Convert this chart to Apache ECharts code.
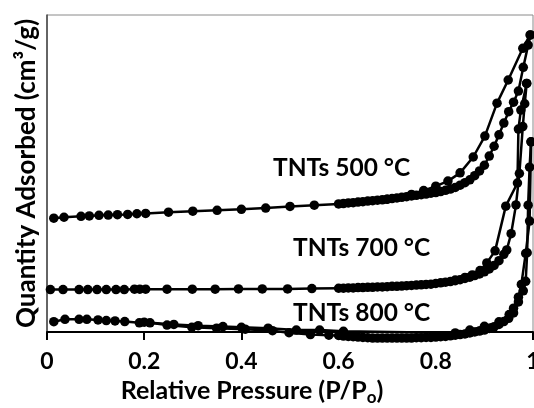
<!DOCTYPE html>
<html>
<head>
<meta charset="utf-8">
<script src="https://cdn.jsdelivr.net/npm/echarts@6/dist/echarts.min.js"></script>
<style>
  html, body { margin: 0; padding: 0; background: #fff; }
  #chart { width: 534px; height: 408px; }
</style>
</head>
<body>
<div id="chart"></div>
<script>
// x tick labels
const xTicks = ["0", "0.2", "0.4", "0.6", "0.8", "1"]

// TNTs 500 °C
const ads500X = [0.014, 0.035, 0.070, 0.087, 0.107, 0.126, 0.145, 0.166, 0.185, 0.203, 0.25, 0.30, 0.35, 0.40, 0.45, 0.50, 0.55,
  0.60, 0.61, 0.62, 0.63, 0.64, 0.65, 0.66, 0.67, 0.68, 0.69, 0.70, 0.71, 0.72, 0.73, 0.74, 0.75, 0.76, 0.77, 0.78, 0.79,
  0.80, 0.81, 0.82, 0.83, 0.84, 0.85, 0.86, 0.87, 0.88, 0.89, 0.90, 0.91, 0.92, 0.93, 0.94, 0.95, 0.96, 0.97, 0.98, 0.99, 0.995]
const ads500Y = [35.9, 36.2, 36.5, 36.6, 36.8, 36.9, 37.0, 37.1, 37.3, 37.4, 37.8, 38.1, 38.4, 38.7, 39.1, 39.6, 40.0,
  40.4, 40.5, 40.7, 40.8, 41.0, 41.1, 41.3, 41.4, 41.6, 41.7, 41.9, 42.1, 42.3, 42.5, 42.7, 42.9, 43.1, 43.3, 43.5, 43.8,
  44.0, 44.3, 44.7, 45.1, 45.6, 46.3, 47.1, 48.0, 49.3, 50.8, 52.6, 55.5, 58.6, 62.2, 65.9, 69.5, 72.5, 76.0, 83.5, 90.5, 93.7]
const des500X = [0.994, 0.979, 0.949, 0.926, 0.901, 0.877, 0.850, 0.825, 0.800, 0.775, 0.750, 0.700]
const des500Y = [93.7, 89.5, 79.5, 72.2, 61.8, 55.2, 50.2, 47.6, 46.0, 44.6, 43.4, 41.9]

// TNTs 700 °C
const ads700X = [0.007, 0.033, 0.066, 0.084, 0.103, 0.122, 0.142, 0.159, 0.180, 0.191, 0.203, 0.247, 0.299, 0.346, 0.394, 0.443, 0.495, 0.545,
  0.60, 0.61, 0.62, 0.63, 0.64, 0.65, 0.66, 0.67, 0.68, 0.69, 0.70, 0.71, 0.72, 0.73, 0.74, 0.75, 0.76, 0.77, 0.78, 0.79,
  0.80, 0.81, 0.82, 0.83, 0.84, 0.85, 0.86, 0.87, 0.88, 0.89, 0.90, 0.91, 0.92, 0.93, 0.94, 0.946, 0.955, 0.965, 0.972, 0.979, 0.983, 0.987]
const ads700Y = [13.4, 13.4, 13.4, 13.4, 13.4, 13.4, 13.4, 13.4, 13.5, 13.5, 13.5, 13.5, 13.5, 13.5, 13.6, 13.6, 13.6, 13.7,
  13.8, 13.8, 13.9, 13.9, 14.0, 14.0, 14.1, 14.1, 14.2, 14.2, 14.3, 14.4, 14.4, 14.5, 14.6, 14.7, 14.8, 14.9, 15.0, 15.1,
  15.3, 15.5, 15.7, 15.9, 16.2, 16.5, 16.9, 17.3, 17.8, 18.3, 19.0, 19.9, 21.0, 22.5, 24.5, 25.9, 31.0, 40.1, 50.0, 64.8, 72.0, 78.4]
const des700X = [0.987, 0.975, 0.970, 0.968, 0.944, 0.922, 0.905, 0.891, 0.875, 0.860, 0.840]
const des700Y = [78.4, 70.0, 64.0, 47.0, 39.7, 25.6, 21.8, 19.4, 18.0, 17.2, 16.4]

// TNTs 800 °C
const ads800X = [0.014, 0.037, 0.066, 0.082, 0.105, 0.122, 0.140, 0.160, 0.190, 0.212, 0.247, 0.298, 0.349, 0.408, 0.464, 0.498, 0.542, 0.580,
  0.60, 0.61, 0.62, 0.63, 0.64, 0.65, 0.66, 0.67, 0.68, 0.69, 0.70, 0.71, 0.72, 0.73, 0.74, 0.75, 0.76, 0.77, 0.78, 0.79,
  0.80, 0.81, 0.82, 0.83, 0.84, 0.85, 0.86, 0.87, 0.88, 0.89, 0.90, 0.91, 0.92, 0.93, 0.94, 0.95, 0.96, 0.97, 0.98, 0.985, 0.988, 0.990, 0.993, 0.996]
const ads800Y = [3.25, 4.0, 4.0, 4.0, 3.8, 3.6, 3.5, 3.3, 2.9, 2.9, 2.2, 1.5, 1.2, 0.9, 0.4, -0.2, -0.8, -1.0,
  -1.1, -1.3, -1.4, -1.5, -1.6, -1.7, -1.8, -1.9, -1.9, -1.9, -1.9, -1.9, -1.9, -1.9, -1.9, -1.9, -1.8, -1.8, -1.7, -1.7,
  -1.6, -1.5, -1.4, -1.2, -1.0, -0.8, -0.6, -0.3, 0.0, 0.3, 0.6, 1.1, 1.6, 2.4, 3.3, 4.3, 6.0, 9.5, 13.0, 16.0, 25.0, 40.0, 52.0, 60.0]
const des800X = [0.996, 0.993, 0.985, 0.976, 0.970, 0.960, 0.951, 0.930, 0.900, 0.870, 0.840, 0.610, 0.561, 0.513, 0.455, 0.400, 0.362, 0.311, 0.261, 0.200]
const des800Y = [60.0, 35.0, 24.8, 15.0, 11.0, 7.5, 5.5, 3.2, 1.8, 0.6, -0.3, 0.2, 0.6, 0.6, 1.2, 1.5, 1.7, 2.0, 2.4, 3.1]

function zip(xs, ys) {
  return xs.map((x, i) => [x, ys[i]])
}

const font = "Lato"

function branch(name, xs, ys) {
  return {
    name: name,
    type: "line",
    data: zip(xs, ys),
    clip: false,
    symbol: "circle",
    symbolSize: 9.5,
    itemStyle: { color: "#000" },
    lineStyle: { color: "#000", width: 2.5 },
    animation: false,
  }
}

const chart = echarts.init(document.getElementById("chart"))
chart.setOption({
  backgroundColor: "#fff",
  grid: {
    left: 47,
    right: 1,
    top: 15,
    bottom: 76,
    outerBoundsMode: "none",
    containLabel: false,
    show: true,
    borderColor: "#8a8a8a",
    borderWidth: 1,
  },
  xAxis: {
    type: "value",
    min: 0,
    max: 1,
    interval: 0.2,
    name: "{a|Relative Pressure (P/P}{b|o}{a|)}",
    nameLocation: "middle",
    nameGap: 44,
    nameTextStyle: {
      padding: [0, 76, 0, 0],
      rich: {
        a: { fontFamily: font, fontWeight: "bold", fontSize: 25, color: "#000", lineHeight: 30 },
        b: { fontFamily: font, fontWeight: "bold", fontSize: 17, color: "#000", lineHeight: 17, verticalAlign: "bottom" },
      },
    },
    axisLine: { lineStyle: { color: "#000", width: 2 } },
    axisTick: { length: 8, lineStyle: { color: "#000", width: 2 } },
    axisLabel: {
      margin: 18,
      fontFamily: font,
      fontWeight: "bold",
      fontSize: 23,
      color: "#000",
      formatter: (v) => xTicks[Math.round(v / 0.2)],
    },
    splitLine: { show: false },
  },
  yAxis: {
    type: "value",
    min: 0,
    max: 100,
    name: "Quantity Adsorbed (cm³/g)",
    nameLocation: "middle",
    nameGap: 7,
    nameTextStyle: { fontFamily: font, fontWeight: "bold", fontSize: 26, color: "#000" },
    axisLine: { show: true, lineStyle: { color: "#444", width: 1.5 } },
    axisTick: { show: false },
    axisLabel: { show: false },
    splitLine: { show: false },
  },
  graphic: [
    { type: "text", left: 273, top: 156, style: { text: "TNTs 500 °C", font: "bold 24.5px " + font, fill: "#000" } },
    { type: "text", left: 293, top: 236, style: { text: "TNTs 700 °C", font: "bold 24.5px " + font, fill: "#000" } },
    { type: "text", left: 293, top: 301, style: { text: "TNTs 800 °C", font: "bold 24.5px " + font, fill: "#000" } },
  ],
  series: [
    branch("500 ads", ads500X, ads500Y),
    branch("500 des", des500X, des500Y),
    branch("700 ads", ads700X, ads700Y),
    branch("700 des", des700X, des700Y),
    branch("800 ads", ads800X, ads800Y),
    branch("800 des", des800X, des800Y),
  ],
})
</script>
</body>
</html>
